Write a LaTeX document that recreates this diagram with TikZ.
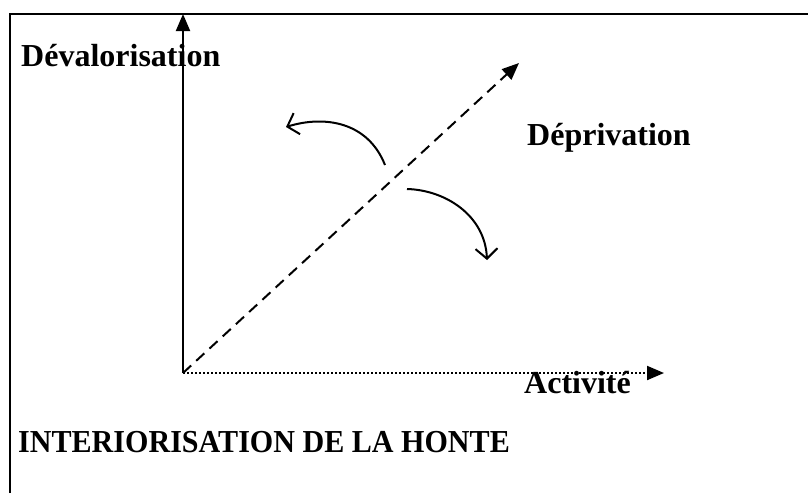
\documentclass[tikz,border=0pt]{standalone}
\usepackage{fontspec}
\setmainfont{Liberation Serif}
\newfontfamily\narrowserif[FakeStretch=0.94]{Liberation Serif}
\usepackage{xcolor,tikz}
\usetikzlibrary{arrows.meta,positioning,calc}
\tikzset{lbl/.style={font=\fontsize{32}{38}\selectfont\bfseries,inner sep=0pt,anchor=base west},
  axis/.style={-{Triangle[length=17pt,width=14pt]},line width=2pt},
  turn/.style={-{Straight Barb[length=10pt,width=22pt]},line width=2pt}}

\begin{document}
\begin{tikzpicture}[x=1pt,y=-1pt]
\useasboundingbox (0,0) rectangle (808,493);
\draw[line width=1.8pt] (10,493)--(10,14)--(808,14);
\coordinate (o) at (183,373);
\coordinate (ytip) at (183,14);
\coordinate (xtip) at (664,373);
\coordinate (dtip) at (519,63);
\coordinate (up0) at (385,165);
\coordinate (up1) at (286,127);
\coordinate (dn0) at (407,189);
\coordinate (dn1) at (487,260);
\node[lbl] (deval) at (21,66) {Dévalorisation};
\node[lbl] (depr) at (527,145) {Déprivation};
\node[lbl] (activ) at (524,393) {Activité};
\node[lbl,font=\fontsize{32}{38}\narrowserif\bfseries] (honte) at (18,452) {INTERIORISATION DE LA HONTE};
\draw[axis] (o)--(ytip);
\draw[axis,dotted] (o)--(xtip);
\draw[axis,dash pattern=on 11pt off 7pt] (o)--(dtip);
\draw[turn] (up0) .. controls (368,122) and (325,115) .. (up1);
\draw[turn] (dn0) .. controls (445,190) and (485,215) .. (dn1);
\end{tikzpicture}
\end{document}
